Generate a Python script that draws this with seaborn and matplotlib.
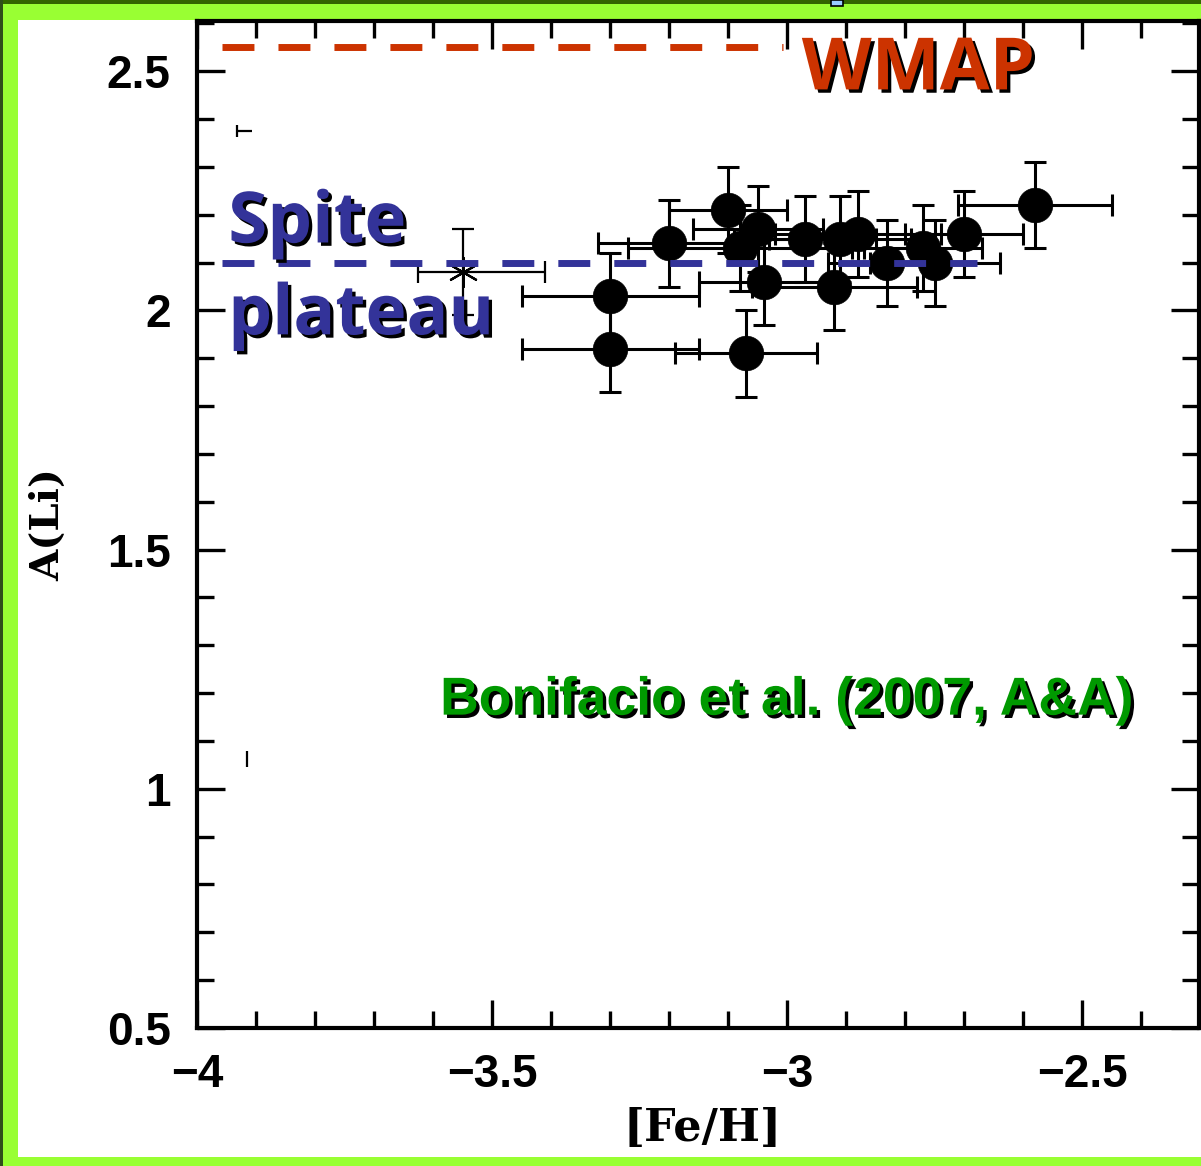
import matplotlib
matplotlib.use("Agg")
import matplotlib.pyplot as plt
import matplotlib.patheffects as pe
from matplotlib.patches import Rectangle
from matplotlib.ticker import MultipleLocator, FixedLocator, FixedFormatter
import seaborn as sns

# ---- data: lithium abundance vs metallicity for extremely metal-poor dwarfs ----
fe_h = [-3.30, -3.30, -3.20, -3.10, -3.08, -3.05, -3.04, -2.97, -2.91,
        -2.88, -2.92, -2.83, -2.77, -2.75, -2.70, -2.58, -3.07]
a_li = [2.03, 1.92, 2.14, 2.21, 2.13, 2.17, 2.06, 2.15, 2.15,
        2.16, 2.05, 2.10, 2.13, 2.10, 2.16, 2.22, 1.91]
fe_h_err = [0.15, 0.15, 0.12, 0.10, 0.19, 0.11, 0.11, 0.12, 0.12,
            0.14, 0.14, 0.10, 0.10, 0.11, 0.10, 0.13, 0.12]
a_li_err = [0.09, 0.09, 0.09, 0.09, 0.09, 0.09, 0.09, 0.09, 0.09,
            0.09, 0.09, 0.09, 0.09, 0.09, 0.09, 0.09, 0.09]

# star plotted with an asterisk
star_fe_h = [-3.55]
star_a_li = [2.08]
star_fe_h_err_lo = [0.075]
star_fe_h_err_hi = [0.14]
star_a_li_err = [0.09]

# leftover error-bar fragments near the left edge
frag_h_y = [2.375]
frag_h_x0 = [-3.932]
frag_h_x1 = [-3.906]
frag_v_x = [-3.915]
frag_v_y0 = [1.045]
frag_v_y1 = [1.08]

# reference levels
wmap_level = 2.55
wmap_x = [-3.958, -3.007]
spite_level = 2.10
spite_x = [-3.958, -2.678]

x_ticks = [-4.0, -3.5, -3.0, -2.5]
x_tick_labels = ["\u22124", "\u22123.5", "\u22123", "\u22122.5"]
y_ticks = [0.5, 1.0, 1.5, 2.0, 2.5]
y_tick_labels = ["0.5", "1", "1.5", "2", "2.5"]

# ---- figure ----
sns.set_theme(style="ticks")
plt.rcParams["lines.scale_dashes"] = False

W, H = 1201, 1166
frame_green = "#99FF33"
fig = plt.figure(figsize=(W / 100, H / 100), dpi=100)
fig.patch.set_facecolor(frame_green)
fig.add_artist(Rectangle((18 / W, 9 / H), 1 - 18 / W, (1157 - 20) / H,
                         transform=fig.transFigure, facecolor="white",
                         edgecolor="none", zorder=-10))
# frame bands drawn over anything that spills past the white panel
fig.add_artist(Rectangle((0, 0), 1, 9 / H, transform=fig.transFigure,
                         facecolor=frame_green, edgecolor="none", zorder=20))
fig.add_artist(Rectangle((0, 1 - 4 / H), 1, 4 / H, transform=fig.transFigure,
                         facecolor="#336600", edgecolor="none", zorder=21))
fig.add_artist(Rectangle((0, 0), 3 / W, 1, transform=fig.transFigure,
                         facecolor="#2f4f1a", edgecolor="none", zorder=21))
fig.add_artist(Rectangle((831 / W, 1 - 6 / H), 12 / W, 6 / H, transform=fig.transFigure,
                         facecolor="#99ccff", edgecolor="black", linewidth=1.2, zorder=22))

ax = fig.add_axes([197 / W, 138 / H, (1199 - 197) / W, (1028 - 21) / H])
ax.set_facecolor("white")

# error bars then filled symbols
ax.errorbar(fe_h, a_li, xerr=fe_h_err, yerr=a_li_err, fmt="none",
            ecolor="black", elinewidth=2.2, capsize=8, capthick=2.2, zorder=2)
sns.scatterplot(x=fe_h, y=a_li, ax=ax, color="black", s=620, marker="o",
                edgecolor="black", linewidth=0.5, zorder=3, legend=False)

ax.errorbar(star_fe_h, star_a_li,
            xerr=[star_fe_h_err_lo, star_fe_h_err_hi], yerr=star_a_li_err,
            fmt="none", ecolor="black", elinewidth=1.6, capsize=8, capthick=1.6, zorder=2)
ax.plot(star_fe_h, star_a_li, linestyle="none", marker=(6, 2, 0), markersize=22,
        markeredgewidth=1.6, color="black", zorder=3)

ax.hlines(frag_h_y, frag_h_x0, frag_h_x1, color="black", linewidth=1.6)
ax.vlines(frag_h_x0, [y - 0.012 for y in frag_h_y], [y + 0.012 for y in frag_h_y],
          color="black", linewidth=1.6)
ax.vlines(frag_v_x, frag_v_y0, frag_v_y1, color="black", linewidth=1.6)

# reference dashed levels
ax.plot(wmap_x, [wmap_level, wmap_level], color="#CC3300", linewidth=5,
        dashes=(23, 17.3), dash_capstyle="butt", zorder=4)
ax.plot(spite_x, [spite_level, spite_level], color="#333399", linewidth=5,
        dashes=(23, 17.3), dash_capstyle="butt", zorder=4)

shadow = [pe.SimplePatchShadow(offset=(2.4, -2.4), shadow_rgbFace="black", alpha=1.0),
          pe.Normal()]
ax.text(-2.975, 2.462, "WMAP", color="#CC3300", fontsize=52, fontweight="bold",
        family=["Open Sans", "DejaVu Sans"], ha="left", va="baseline",
        path_effects=shadow, zorder=6)
ax.text(-3.947, 2.142, "Spite", color="#333399", fontsize=51, fontweight="bold",
        family=["Open Sans", "DejaVu Sans"], ha="left", va="baseline",
        path_effects=shadow, zorder=6)
ax.text(-3.947, 1.950, "plateau", color="#333399", fontsize=50, fontweight="bold",
        family=["Open Sans", "DejaVu Sans"], ha="left", va="baseline",
        path_effects=shadow, zorder=6)
ax.text(-3.588, 1.155, "Bonifacio et al. (2007, A&A)", color="#009900", fontsize=38.5,
        fontweight="bold", family=["Liberation Sans Narrow", "Liberation Sans"],
        ha="left", va="baseline", path_effects=shadow, zorder=6)

# axes
ax.set_xlim(-4.0, -2.302)
ax.set_ylim(0.5, 2.605)
ax.xaxis.set_major_locator(FixedLocator(x_ticks))
ax.xaxis.set_major_formatter(FixedFormatter(x_tick_labels))
ax.yaxis.set_major_locator(FixedLocator(y_ticks))
ax.yaxis.set_major_formatter(FixedFormatter(y_tick_labels))
ax.xaxis.set_minor_locator(MultipleLocator(0.1))
ax.yaxis.set_minor_locator(MultipleLocator(0.1))

for s in ax.spines.values():
    s.set_linewidth(3)
    s.set_color("black")
    s.set_visible(True)

ax.tick_params(which="both", direction="in", top=True, right=True,
               color="black", width=2.4)
ax.tick_params(which="major", length=20)
ax.tick_params(which="minor", length=12)
ax.tick_params(axis="y", which="major", pad=19)
ax.tick_params(axis="x", which="major", pad=18)
for lab in ax.get_xticklabels() + ax.get_yticklabels():
    lab.set_fontfamily("Liberation Sans")
    lab.set_fontweight("bold")
    lab.set_fontsize(33)
    lab.set_color("black")

ax.set_xlabel("[Fe/H]", fontsize=32, fontweight="bold", family="DejaVu Serif", color="black")
ax.set_ylabel("A(Li)", fontsize=29, fontweight="bold", family="DejaVu Serif", color="black")
ax.xaxis.set_label_coords(0.505, -0.078)
ax.yaxis.set_label_coords(-0.13, 0.5)

fig.savefig("out.png", dpi=100, facecolor=fig.get_facecolor())
